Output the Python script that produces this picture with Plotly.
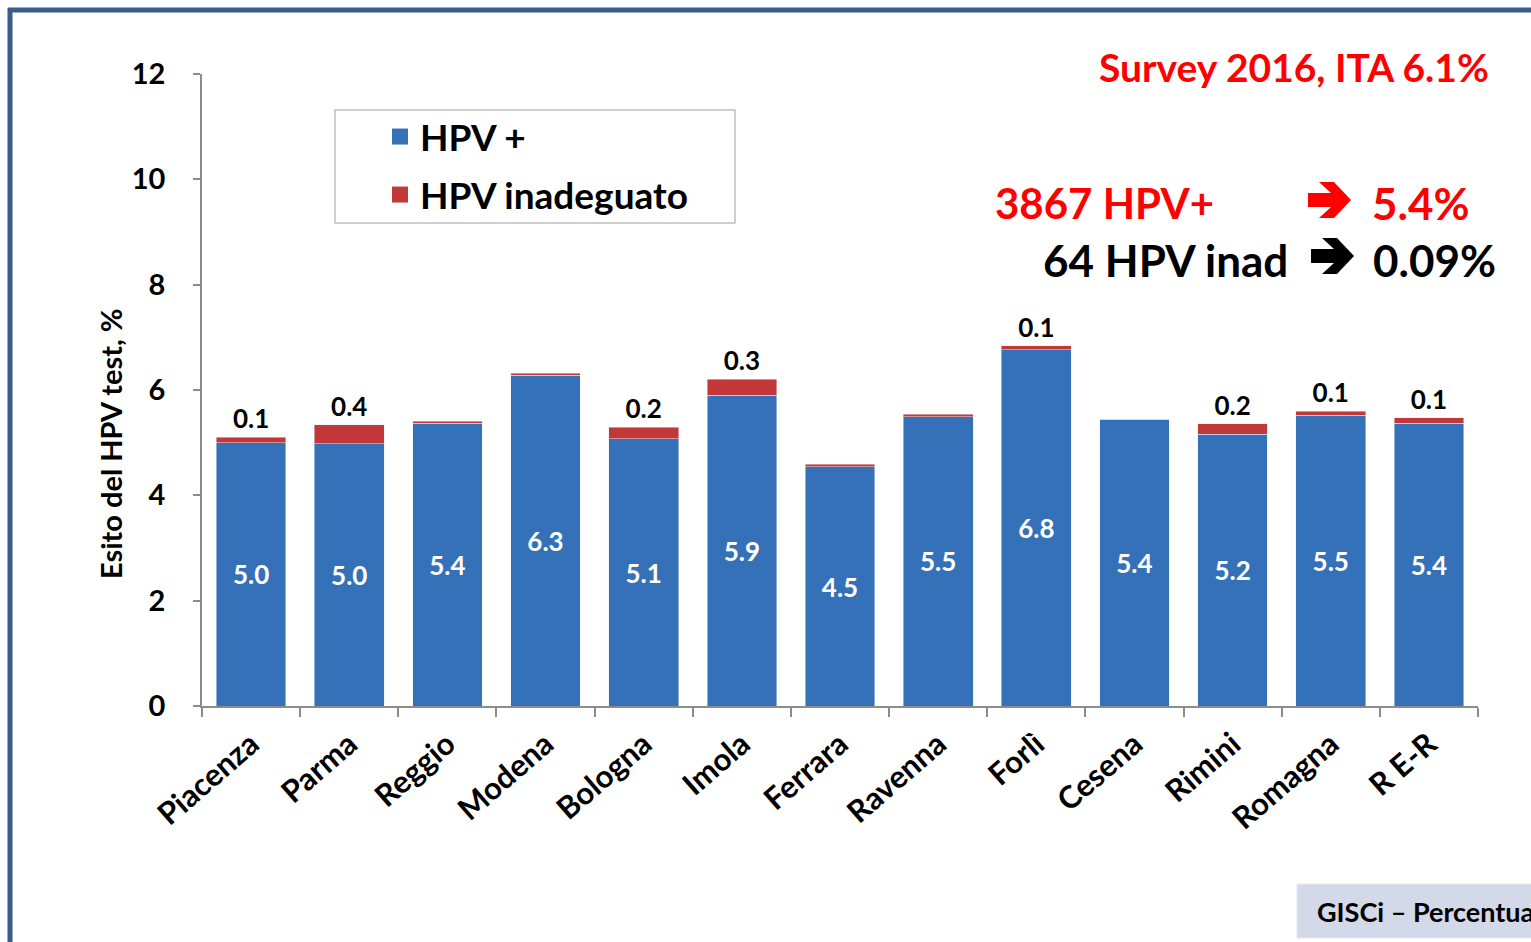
import plotly.graph_objects as go

aree = ['Piacenza', 'Parma', 'Reggio', 'Modena', 'Bologna', 'Imola', 'Ferrara',
        'Ravenna', 'Forlì', 'Cesena', 'Rimini', 'Romagna', 'R E-R']
hpv_pos = [5.0, 4.98, 5.37, 6.28, 5.07, 5.9, 4.54, 5.49, 6.76, 5.44, 5.16, 5.52, 5.37]
hpv_inad = [0.1, 0.36, 0.04, 0.04, 0.22, 0.3, 0.05, 0.05, 0.08, 0.0, 0.2, 0.08, 0.1]
etichette_inad = ['0.1', '0.4', '', '', '0.2', '0.3', '', '', '0.1', '', '0.2', '0.1', '0.1']
y_ticks = [0, 2, 4, 6, 8, 10, 12]

font_base = 'Lato, Open Sans, sans-serif'
blu = '#3571B9'
rosso = '#C23737'


# converte pixel della figura in coordinate paper (area del grafico 202..1478 x 74..706)
def px_x(p):
    return (p - 202) / 1276


def px_y(p):
    return (706 - p) / 632


def freccia(x0, yc):
    # freccia piena stile Wingdings, larga ~43 px, alta ~36 px
    punti = [(0, -7), (23, -7), (11, -18), (26, -18), (43, 0),
             (26, 18), (11, 18), (23, 7), (0, 7)]
    path = 'M ' + ' L '.join(f'{px_x(x0 + dx):.5f},{px_y(yc + dy):.5f}' for dx, dy in punti) + ' Z'
    return path


fig = go.Figure()
fig.add_trace(go.Bar(
    x=aree, y=hpv_pos, name='HPV +', marker_color=blu, showlegend=False,
    texttemplate='<b>%{y:.1f}</b>', textposition='inside', insidetextanchor='middle',
    insidetextfont=dict(color='white', size=31, family=font_base, weight='bold'),
))
fig.add_trace(go.Bar(
    x=aree, y=hpv_inad, name='HPV inadeguato', marker_color=rosso, showlegend=False,
    text=etichette_inad, texttemplate='<b>%{text}</b>', textposition='outside', cliponaxis=False,
    outsidetextfont=dict(color='black', size=26, family=font_base, weight='bold'),
))
# voci di legenda con quadrati piu' grandi
fig.add_trace(go.Scatter(x=[None], y=[None], mode='markers', name='HPV +',
                         marker=dict(symbol='square', size=16, color=blu),
                         showlegend=True, legend='legend'))
fig.add_trace(go.Scatter(x=[None], y=[None], mode='markers', name='HPV inadeguato',
                         marker=dict(symbol='square', size=16, color=rosso),
                         showlegend=True, legend='legend2'))

fig.update_layout(
    width=1531, height=942,
    barmode='stack', bargap=0.29,
    plot_bgcolor='white', paper_bgcolor='white',
    font=dict(family=font_base, color='black'),
    margin=dict(l=202, r=53, t=74, b=236),
    showlegend=True,
    legend=dict(x=px_x(380), y=px_y(137), xanchor='left', yanchor='middle',
                bgcolor='rgba(0,0,0,0)', font=dict(size=37, weight='bold')),
    legend2=dict(x=px_x(380), y=px_y(195), xanchor='left', yanchor='middle',
                 bgcolor='rgba(0,0,0,0)', font=dict(size=37, weight='bold')),
    uniformtext=dict(minsize=10, mode='show'),
)

fig.update_yaxes(range=[0, 12], tickvals=y_ticks, showgrid=False, zeroline=False,
                 showline=True, linecolor='#8C8C8C', linewidth=1.5,
                 ticks='outside', ticklen=7, tickcolor='#8C8C8C', tickwidth=1.5,
                 tickfont=dict(size=29, weight='bold'), ticklabelstandoff=22)
fig.update_xaxes(showline=True, linecolor='#8C8C8C', linewidth=1.5,
                 ticks='outside', tickson='boundaries', ticklen=9,
                 tickcolor='#8C8C8C', tickwidth=1.5, tickangle=-41,
                 tickfont=dict(size=31, weight='bold'), ticklabelstandoff=6)

# titolo asse y
fig.add_annotation(text='<b>Esito del HPV test, %</b>', textangle=-90, showarrow=False,
                   xref='paper', yref='paper', x=px_x(110), y=px_y(444),
                   xanchor='center', yanchor='middle', font=dict(size=29))

# riquadro legenda
fig.add_shape(type='rect', xref='paper', yref='paper',
              x0=px_x(335), x1=px_x(735), y0=px_y(223), y1=px_y(110),
              line=dict(color='#BFBFBF', width=1.5), fillcolor='rgba(0,0,0,0)')

# testi in alto a destra
fig.add_annotation(text='<b>Survey 2016, ITA 6.1%</b>', showarrow=False, xref='paper', yref='paper',
                   x=px_x(1491), y=px_y(67), xanchor='right', yanchor='middle',
                   font=dict(size=39, color='#FF0000'))
fig.add_annotation(text='<b>3867 HPV+</b>', showarrow=False, xref='paper', yref='paper',
                   x=px_x(993), y=px_y(203), xanchor='left', yanchor='middle',
                   font=dict(size=42, color='#FF0000'))
fig.add_shape(type='path', xref='paper', yref='paper', path=freccia(1308, 200),
              fillcolor='#FF0000', line=dict(width=0))
fig.add_annotation(text='<b>5.4%</b>', showarrow=False, xref='paper', yref='paper',
                   x=px_x(1370), y=px_y(203), xanchor='left', yanchor='middle',
                   font=dict(size=44, color='#FF0000'))
fig.add_annotation(text='<b>64 HPV inad</b>', showarrow=False, xref='paper', yref='paper',
                   x=px_x(1290), y=px_y(260), xanchor='right', yanchor='middle',
                   font=dict(size=44, color='black'))
fig.add_shape(type='path', xref='paper', yref='paper', path=freccia(1311, 256),
              fillcolor='black', line=dict(width=0))
fig.add_annotation(text='<b>0.09%</b>', showarrow=False, xref='paper', yref='paper',
                   x=px_x(1371), y=px_y(260), xanchor='left', yanchor='middle',
                   font=dict(size=44, color='black'))

# box in basso a destra
fig.add_shape(type='rect', xref='paper', yref='paper',
              x0=px_x(1297), x1=px_x(1560), y0=px_y(938), y1=px_y(884),
              line=dict(color='#E6E9F0', width=1), fillcolor='#D3D9E8')
fig.add_annotation(text='<b>GISCi – Percentuale</b>', showarrow=False, xref='paper', yref='paper',
                   x=px_x(1315), y=px_y(911), xanchor='left', yanchor='middle',
                   font=dict(size=27, color='black'))

# cornice della slide
fig.add_shape(type='line', xref='paper', yref='paper',
              x0=px_x(8), x1=px_x(1540), y0=px_y(10), y1=px_y(10),
              line=dict(color='#3A5E8C', width=5))
fig.add_shape(type='line', xref='paper', yref='paper',
              x0=px_x(10), x1=px_x(10), y0=px_y(8), y1=px_y(950),
              line=dict(color='#3A5E8C', width=5))

fig.write_html('out.html', config={'displayModeBar': False},
               post_script="document.body.style.margin='0';")
